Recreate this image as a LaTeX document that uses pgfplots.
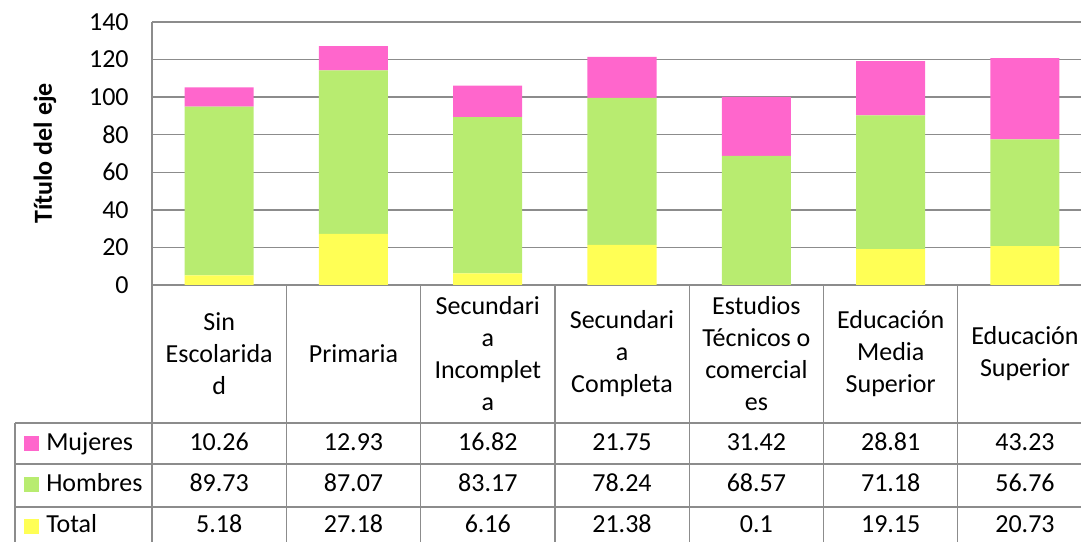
\documentclass[border=0pt]{standalone}
\usepackage{fontspec}
\setmainfont{Carlito}
\usepackage{pgfplots}
\pgfplotsset{compat=1.18}
\definecolor{cpink}{HTML}{FF66CC}
\definecolor{cgreen}{HTML}{B8EC70}
\definecolor{cyellow}{HTML}{FFFF55}
\definecolor{gridgray}{HTML}{8C8C8C}
\newcommand{\bigfont}{\fontsize{19.5}{24}\selectfont}
\begin{document}
\begin{tikzpicture}[x=0.75pt,y=0.75pt,every node/.style={font=\bigfont}]
\useasboundingbox (0,0) rectangle (1081,542);
\clip (0,0) rectangle (1081,542);
\begin{axis}[
  at={(114pt,192.75pt)}, anchor=south west,
  scale only axis, width=705pt, height=197.25pt,
  xmin=-0.5, xmax=6.5, ymin=0, ymax=140,
  ybar stacked, bar width=0.514,
  axis x line*=bottom, axis y line*=left,
  axis line style={draw=gridgray, line width=1pt, -},
  xtick=\empty,
  ytick={0,20,...,140},
  major tick length=0pt,
  ymajorgrids, grid style={draw=gridgray, line width=1pt},
  /pgf/number format/assume math mode=true,
  yticklabel style={font=\bigfont, xshift=-14pt},
  ylabel={\bfseries Título del eje},
  ylabel style={at={(axis description cs:-0.1138,0.5)}, anchor=center, font=\bigfont},
  clip=false,
]
\addplot[fill=cyellow, draw=none] coordinates {(0,5.18) (1,27.18) (2,6.16) (3,21.38) (4,0.1) (5,19.15) (6,20.73)};
\addplot[fill=cgreen, draw=none] coordinates {(0,89.73) (1,87.07) (2,83.17) (3,78.24) (4,68.57) (5,71.18) (6,56.76)};
\addplot[fill=cpink, draw=none] coordinates {(0,10.26) (1,12.93) (2,16.82) (3,21.75) (4,31.42) (5,28.81) (6,43.23)};
\end{axis}
\draw[gridgray, line width=1pt] (15,-10) -- (15,119);
\draw[gridgray, line width=1pt] (15,119) -- (1095,119);
\draw[gridgray, line width=1pt] (15,78) -- (1095,78);
\draw[gridgray, line width=1pt] (15,35) -- (1095,35);
\foreach \xx in {152,286.3,420.6,554.9,689.2,823.5,957.8,1092.1} {\draw[gridgray, line width=1pt] (\xx,257) -- (\xx,-10);}
\fill[cpink] (24,91) rectangle (39,106);
\fill[cgreen] (24,50) rectangle (39,65);
\fill[cyellow] (24,8) rectangle (39,23);
\node[anchor=base west, inner sep=0pt] at (46,91) {Mujeres};
\node[anchor=base west, inner sep=0pt] at (46,50) {Hombres};
\node[anchor=base west, inner sep=0pt] at (46,9) {Total};
\node[align=center, inner sep=0pt] at (219.2,188) {Sin\\Escolarida\\d};
\node[align=center, inner sep=0pt] at (353.5,188) {Primaria};
\node[align=center, inner sep=0pt] at (487.8,188) {Secundari\\a\\Incomplet\\a};
\node[align=center, inner sep=0pt] at (622.0,188) {Secundari\\a\\Completa};
\node[align=center, inner sep=0pt] at (756.4,188) {Estudios\\Técnicos o\\comercial\\es};
\node[align=center, inner sep=0pt] at (890.7,188) {Educación\\Media\\Superior};
\node[align=center, inner sep=0pt] at (1025.0,188) {Educación\\Superior};
\foreach \cx/\vm/\vh/\vt in {219.2/10.26/89.73/5.18, 353.5/12.93/87.07/27.18, 487.8/16.82/83.17/6.16, 622.0/21.75/78.24/21.38, 756.4/31.42/68.57/0.1, 890.7/28.81/71.18/19.15, 1025.0/43.23/56.76/20.73} {
  \node[anchor=base, inner sep=0pt] at (\cx,91) {\vm};
  \node[anchor=base, inner sep=0pt] at (\cx,50) {\vh};
  \node[anchor=base, inner sep=0pt] at (\cx,9) {\vt};
}
\end{tikzpicture}
\end{document}
